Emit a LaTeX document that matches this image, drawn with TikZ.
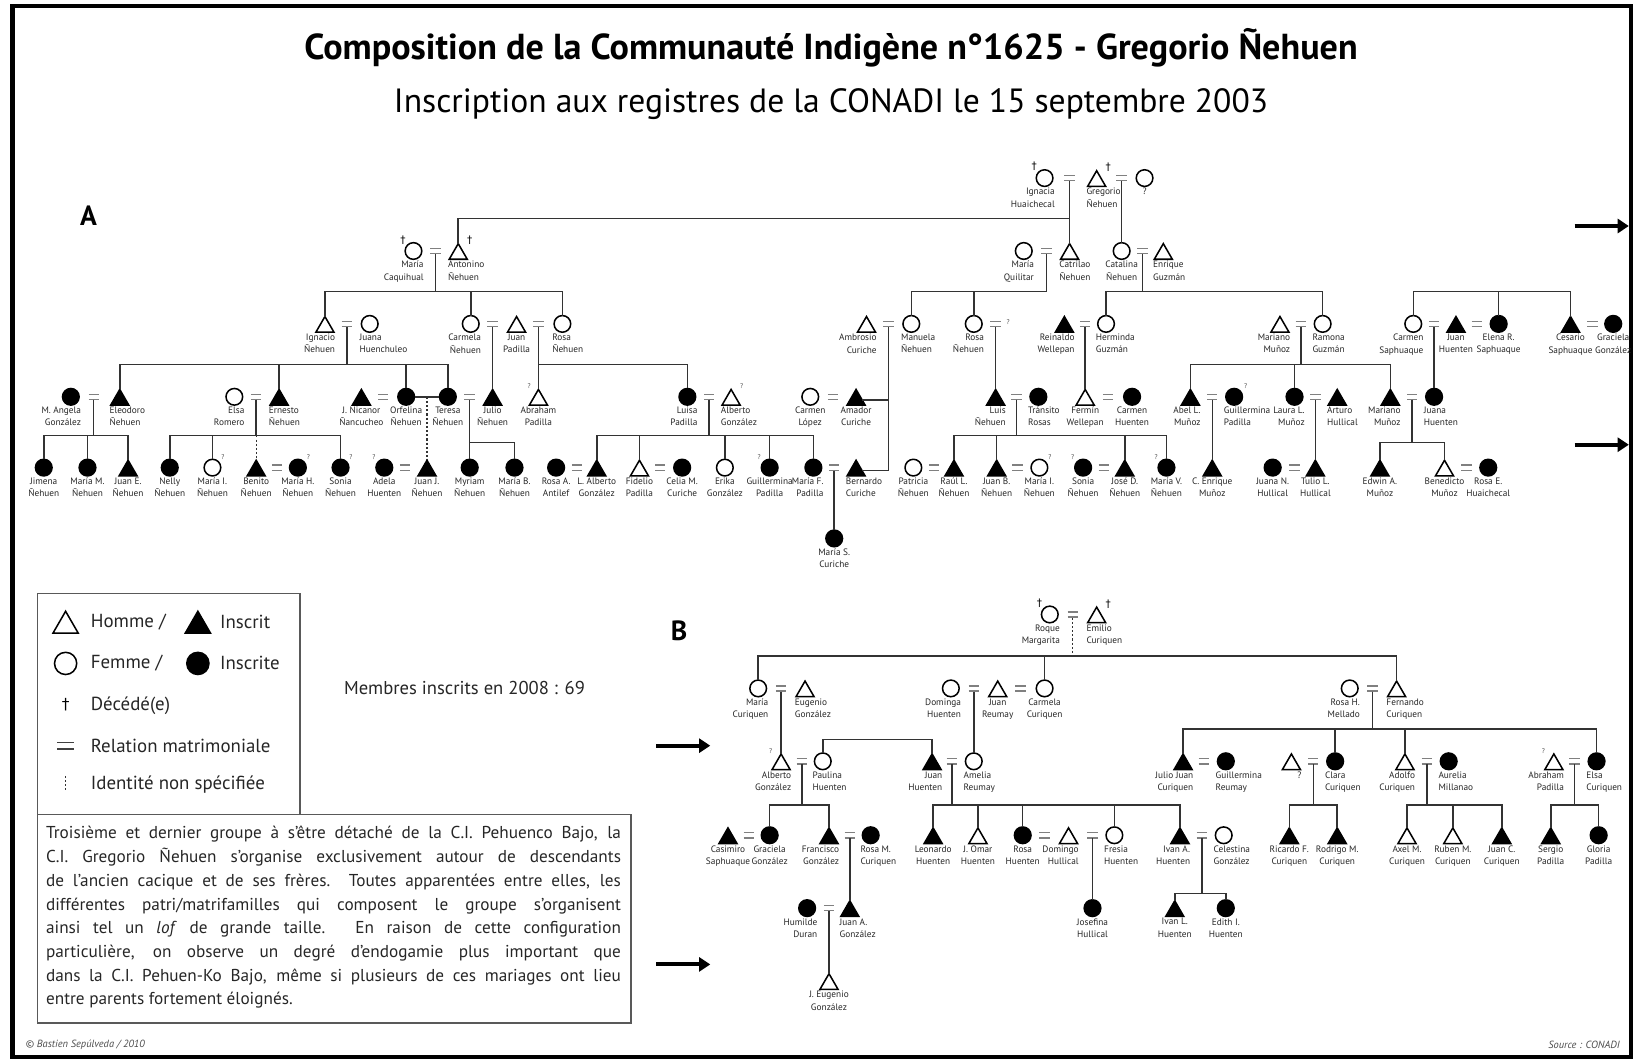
\documentclass[tikz,border=0pt]{standalone}
\usepackage{fontspec}
\setmainfont{PT Sans}
\newfontfamily\djv{DejaVu Sans}
\usetikzlibrary{shapes.geometric,arrows.meta,calc}
\tikzset{
  sym/.style={draw=black, line width=1.1pt, inner sep=0pt, outer sep=0pt},
  hom/.style={sym, regular polygon, regular polygon sides=3, minimum size=15pt, fill=white, yshift=-2.2pt},
  homI/.style={hom, fill=black},
  fem/.style={sym, circle, minimum size=12pt, fill=white},
  femI/.style={fem, fill=black},
  lab/.style={font=\fontsize{6.7}{8.8}\selectfont, inner sep=0pt, text=black!85, yshift=-7.2pt},
  labC/.style={anchor=north, align=center},
  labL/.style={anchor=north east, align=right, xshift=7.5pt},
  labR/.style={anchor=north west, align=left, xshift=-7.5pt},
  link/.style={draw=black!80, line width=1.1pt},
  dotl/.style={draw=black!80, line width=1pt, dash pattern=on 1.5pt off 1.5pt},
  eqs/.style={draw=black!50, line width=1pt},
  qm/.style={font=\fontsize{5}{5}\selectfont, inner sep=0pt, text=black!70},
  dag/.style={font=\djv\fontsize{7.5}{7.5}\selectfont, inner sep=0pt},
  bigarrow/.style={line width=3pt, -{Triangle[length=8pt,width=10pt]}},
  box/.style={draw=black!65, line width=1.2pt},
  legtxt/.style={font=\fontsize{13.6}{15}\selectfont, anchor=west, inner sep=0pt, text=black!85},
}
\newcommand{\Pers}[6]{\node[#1] (#2) at (#3,#4) {}; \node[lab,#5] (#2-l) at (#3,#4) {#6};}
\newcommand{\Marr}[3]{\draw[eqs] ({#2-5},{#3-2.5}) -- ({#2+5},{#3-2.5}) ({#2-5},{#3+2.5}) -- ({#2+5},{#3+2.5}); \coordinate (#1) at (#2,{#3+3});}
\newcommand{\Desc}[3]{\foreach \kid in {#3}{\draw[link] (#1) |- (\kid |- 0,#2) -- (\kid.north);}}
\newcommand{\Direct}[2]{\draw[link] (#1) -- (#1 |- #2.north);}
\newcommand{\Qm}[3]{\node[qm] (#1) at (#2,#3) {?};}
\begin{document}
\begin{tikzpicture}[x=0.75pt, y=-0.75pt]
\useasboundingbox (0,0) rectangle (1568,1018);
\draw[line width=3pt] (12,6) rectangle (1566,1015);

\node[font=\bfseries\fontsize{26}{30}\selectfont] (title) at (798,46) {Composition de la Communauté Indigène n°1625 - Gregorio Ñehuen};
\node[font=\fontsize{24.2}{28}\selectfont] (sub) at (798,100) {Inscription aux registres de la CONADI le 15 septembre 2003};
\node[font=\bfseries\fontsize{20}{20}\selectfont] (lA) at (85,207) {A};
\node[font=\bfseries\fontsize{20}{20}\selectfont] (lB) at (652,606) {B};

% ===== A : generation 1
\Pers{fem}{ign}{1003}{171}{labL}{Ignacia\\Huaichecal}
\Marr{m1}{1027}{171}
\Pers{hom}{gre}{1053}{171}{labR}{Gregorio\\Ñehuen}
\Marr{m2}{1077}{171}
\Pers{fem}{gref}{1099}{171}{labC}{?}
\node[dag] (d1) at (993,160) {†};
\node[dag] (d2) at (1064,161) {†};
% generation 2
\Pers{fem}{mca}{397}{241}{labL}{María\\Caquihual}
\Marr{m3}{418}{241}
\Pers{hom}{ant}{440}{241}{labR}{Antonino\\Ñehuen}
\node[dag] (d3) at (387,231) {†};
\node[dag] (d4) at (451,231) {†};
\Pers{fem}{mqu}{983}{241}{labL}{María\\Quilitar}
\Marr{m4}{1005}{241}
\Pers{hom}{cat}{1027}{241}{labR}{Catrilao\\Ñehuen}
\Pers{fem}{cata}{1077}{241}{labC}{Catalina\\Ñehuen}
\Marr{m5}{1097}{241}
\Pers{hom}{enr}{1117}{241}{labR}{Enrique\\Guzmán}
\Direct{m1}{cat}
\draw[link] (m1 |- 0,210) -| (ant.north);
\Direct{m2}{cata}
% row 3
\Pers{hom}{ignc}{312}{311}{labL}{Ignacio\\Ñehuen}
\Marr{m6}{333}{311}
\Pers{fem}{jua}{355}{311}{labR}{Juana\\Huenchuleo}
\Pers{fem}{carm}{452}{311}{labL}{Carmela\\Ñehuen}
\Marr{m7}{473}{311}
\Pers{hom}{jpad}{496}{311}{labC}{Juan\\Padilla}
\Marr{m8}{517}{311}
\Pers{fem}{rosn}{540}{311}{labR}{Rosa\\Ñehuen}
\Desc{m3}{280}{ignc,carm,rosn}
\Pers{hom}{amb}{832}{311}{labL}{Ambrosio\\Curiche}
\Marr{m9}{853}{311}
\Pers{fem}{man}{875}{311}{labR}{Manuela\\Ñehuen}
\Pers{fem}{ros2}{935}{311}{labL}{Rosa\\Ñehuen}
\Marr{m10}{956}{311}
\Qm{q0}{968}{309}
\Desc{m4}{280}{man,ros2}
\Pers{homI}{rei}{1022}{311}{labL}{Reinaldo\\Wellepan}
\Marr{m11}{1042}{311}
\Pers{fem}{her}{1062}{311}{labR}{Herminda\\Guzmán}
\Pers{hom}{mar}{1229}{311}{labL}{Mariano\\Muñoz}
\Marr{m12}{1249}{311}
\Pers{fem}{ram}{1270}{311}{labR}{Ramona\\Guzmán}
\Desc{m5}{280}{her,ram}
\Pers{fem}{csa}{1357}{311}{labL}{Carmen\\Saphuaque}
\Marr{m13}{1377}{311}
\Pers{homI}{jhu}{1398}{311}{labC}{Juan\\Huenten}
\Marr{m14}{1418}{311}
\Pers{femI}{ele}{1439}{311}{labC}{Elena R.\\Saphuaque}
\Pers{homI}{ces}{1508}{311}{labC}{Cesario\\Saphuaque}
\Marr{m15}{1529}{311}
\Pers{femI}{gra}{1549}{311}{labC}{Graciela\\González}
\coordinate (sib1) at (1439,280);
\Desc{sib1}{280}{csa,ele,ces}
% row 4
\Pers{femI}{mag}{68}{381}{labL}{M. Angela\\González}
\Marr{m16}{90}{381}
\Pers{homI}{eln}{115}{381}{labR}{Eleodoro\\Ñehuen}
\Pers{fem}{els}{225}{381}{labL}{Elsa\\Romero}
\Marr{m17}{246}{381}
\Pers{homI}{ern}{268}{381}{labR}{Ernesto\\Ñehuen}
\Pers{homI}{nic}{347}{381}{labC}{J. Nicanor\\Ñancucheo}
\Marr{m18}{368}{381}
\Pers{femI}{orf}{390}{381}{labC}{Orfelina\\Ñehuen}
\Pers{femI}{ter}{430}{381}{labC}{Teresa\\Ñehuen}
\Marr{m19}{451}{381}
\Pers{homI}{jul}{473}{381}{labC}{Julio\\Ñehuen}
\Pers{hom}{abr}{517}{381}{labC}{Abraham\\Padilla}
\Qm{q1}{508}{371}
\Desc{m6}{350}{eln,ern,orf,ter}
\Direct{m7}{jul}
\draw[link] (orf.east) -- (ter.west);
\coordinate (ot) at ($(orf.east)!0.5!(ter.west)$);
\Pers{femI}{lui}{660}{381}{labL}{Luisa\\Padilla}
\Desc{m8}{350}{abr,lui}
\Marr{m20}{681}{381}
\Pers{hom}{alb}{702}{381}{labR}{Alberto\\González}
\Qm{q2}{712}{371}
\Pers{fem}{clo}{778}{381}{labC}{Carmen\\López}
\Marr{m21}{800}{381}
\Pers{homI}{ama}{822}{381}{labC}{Amador\\Curiche}
\Pers{homI}{lui2}{956}{381}{labL}{Luis\\Ñehuen}
\Marr{m22}{976}{381}
\Pers{femI}{tra}{997}{381}{labR}{Tránsito\\Rosas}
\Direct{m10}{lui2}
\Pers{hom}{fer}{1042}{381}{labC}{Fermín\\Wellepan}
\Marr{m23}{1064}{381}
\Pers{femI}{cah}{1087}{381}{labC}{Carmen\\Huenten}
\Direct{m11}{fer}
\Pers{homI}{abe}{1143}{381}{labL}{Abel L.\\Muñoz}
\Marr{m24}{1164}{381}
\Pers{femI}{gui}{1185}{381}{labR}{Guillermina\\Padilla}
\Qm{q3}{1196}{371}
\Pers{femI}{lau}{1243}{381}{labL}{Laura L.\\Muñoz}
\Marr{m25}{1263}{381}
\Pers{homI}{art}{1284}{381}{labR}{Arturo\\Hullical}
\Pers{homI}{mar2}{1335}{381}{labL}{Mariano\\Muñoz}
\Marr{m26}{1356}{381}
\Pers{femI}{jhu2}{1377}{381}{labR}{Juana\\Huenten}
\Desc{m12}{350}{abe,lau,mar2}
\Direct{m13}{jhu2}
% row 5
\Pers{femI}{jim}{42}{449}{labC}{Jimena\\Ñehuen}
\Pers{femI}{mmn}{84}{449}{labC}{María M.\\Ñehuen}
\Pers{homI}{jen}{123}{449}{labC}{Juan E.\\Ñehuen}
\Desc{m16}{418}{jim,mmn,jen}
\Pers{femI}{nel}{163}{449}{labC}{Nelly\\Ñehuen}
\Pers{fem}{min}{204}{449}{labC}{María I.\\Ñehuen}
\Qm{q4}{214}{439}
\Pers{homI}{ben}{246}{449}{labC}{Benito\\Ñehuen}
\Marr{m27}{266}{449}
\Pers{femI}{mhn}{286}{449}{labC}{María H.\\Ñehuen}
\Qm{q5}{296}{439}
\Pers{femI}{son}{327}{449}{labC}{Sonia\\Ñehuen}
\Qm{q6}{337}{439}
\Desc{m17}{418}{nel,min,son}
\draw[dotl] (m17 |- 0,418) -- (ben.north);
\Pers{femI}{ade}{369}{449}{labC}{Adela\\Huenten}
\Qm{q7}{359}{439}
\Marr{m28}{389}{449}
\Pers{homI}{jjn}{410}{449}{labC}{Juan J.\\Ñehuen}
\draw[dotl] (ot) -- (ot |- jjn.north);
\Pers{femI}{myr}{451}{449}{labC}{Myriam\\Ñehuen}
\Pers{femI}{mbn}{494}{449}{labC}{María B.\\Ñehuen}
\Direct{m19}{myr}
\draw[link] (m19 |- 0,425) -| (mbn.north);
\Pers{femI}{raa}{534}{449}{labC}{Rosa A.\\Antilef}
\Marr{m29}{554}{449}
\Pers{homI}{lal}{573}{449}{labC}{L. Alberto\\González}
\Pers{hom}{fid}{614}{449}{labC}{Fidelio\\Padilla}
\Marr{m30}{634}{449}
\Pers{femI}{cel}{655}{449}{labC}{Celia M.\\Curiche}
\Pers{fem}{eri}{696}{449}{labC}{Erika\\González}
\Pers{femI}{gui2}{739}{449}{labC}{Guillermina\\Padilla}
\Qm{q8}{729}{439}
\Pers{femI}{mfp}{781}{449}{labL}{María F.\\Padilla}
\Marr{m31}{801}{449}
\Pers{homI}{ber}{822}{449}{labR}{Bernardo\\Curiche}
\Desc{m20}{418}{lal,fid,eri,gui2,mfp}
\draw[link] (m9) |- (ber.east);
\draw[link] (m9 |- ama.east) -- (ama.east);
\Pers{fem}{pat}{877}{449}{labC}{Patricia\\Ñehuen}
\Marr{m32}{897}{449}
\Pers{homI}{rau}{916}{449}{labC}{Raúl L.\\Ñehuen}
\Pers{homI}{jbn}{957}{449}{labC}{Juan B.\\Ñehuen}
\Marr{m33}{977}{449}
\Pers{fem}{min2}{998}{449}{labC}{María I.\\Ñehuen}
\Qm{q9}{1008}{439}
\Pers{femI}{son2}{1040}{449}{labC}{Sonia\\Ñehuen}
\Qm{q10}{1030}{439}
\Marr{m34}{1060}{449}
\Pers{homI}{jdn}{1080}{449}{labC}{José D.\\Ñehuen}
\Pers{femI}{mvn}{1120}{449}{labC}{María V.\\Ñehuen}
\Qm{q11}{1110}{439}
\Desc{m22}{418}{rau,jbn,jdn,mvn}
\Pers{homI}{cen}{1164}{449}{labC}{C. Enrique\\Muñoz}
\Direct{m24}{cen}
\Pers{femI}{jnh}{1222}{449}{labC}{Juana N.\\Hullical}
\Marr{m35}{1243}{449}
\Pers{homI}{tul}{1263}{449}{labC}{Tulio L.\\Hullical}
\Direct{m25}{tul}
\Pers{homI}{edw}{1325}{449}{labC}{Edwin A.\\Muñoz}
\Pers{hom}{bed}{1387}{449}{labC}{Benedicto\\Muñoz}
\Marr{m36}{1408}{449}
\Pers{femI}{reh}{1429}{449}{labC}{Rosa E.\\Huaichecal}
\Desc{m26}{425}{edw,bed}
% row 6
\Pers{femI}{msc}{801}{517}{labC}{María S.\\Curiche}
\Direct{m31}{msc}

% arrows
\coordinate (a1s) at (1512,217); \coordinate (a1e) at (1564,217);
\coordinate (a2s) at (1512,427); \coordinate (a2e) at (1564,427);
\coordinate (a3s) at (630,716);  \coordinate (a3e) at (682,716);
\coordinate (a4s) at (630,926);  \coordinate (a4e) at (682,926);
\draw[bigarrow] (a1s) -- (a1e);
\draw[bigarrow] (a2s) -- (a2e);
\draw[bigarrow] (a3s) -- (a3e);
\draw[bigarrow] (a4s) -- (a4e);

% ===== B
\Pers{fem}{roq}{1008}{590}{labL}{Roque\\Margarita}
\Marr{m40}{1030}{590}
\Pers{hom}{emi}{1053}{590}{labR}{Emilio\\Curiquen}
\node[dag] (d5) at (998,579) {†};
\node[dag] (d6) at (1064,580) {†};
\Pers{fem}{mcu}{728}{661}{labL}{María\\Curiquen}
\Marr{m41}{750}{661}
\Pers{hom}{eug}{773}{661}{labR}{Eugenio\\González}
\Pers{fem}{dhu}{913}{661}{labL}{Dominga\\Huenten}
\Marr{m42}{935}{661}
\Pers{hom}{jre}{958}{661}{labC}{Juan\\Reumay}
\Marr{m43}{980}{661}
\Pers{fem}{ccu}{1003}{661}{labC}{Carmela\\Curiquen}
\Pers{fem}{rhm}{1296}{661}{labL}{Rosa H.\\Mellado}
\Marr{m44}{1318}{661}
\Pers{hom}{fcu}{1341}{661}{labR}{Fernando\\Curiquen}
\draw[dotl] (m40) -- (m40 |- 0,630);
\coordinate (b1) at (m40 |- 0,630);
\Desc{b1}{630}{mcu,ccu,fcu}
% B row 3
\Pers{hom}{agz}{750}{731}{labL}{Alberto\\González}
\Qm{q12}{740}{721}
\Marr{m45}{770}{731}
\Pers{fem}{phu}{790}{731}{labR}{Paulina\\Huenten}
\Direct{m41}{agz}
\Pers{homI}{jhb}{895}{731}{labL}{Juan\\Huenten}
\Marr{m46}{914}{731}
\Pers{fem}{are}{935}{731}{labR}{Amelia\\Reumay}
\Direct{m42}{are}
\draw[link] (phu.north) |- (jhb.north |- 0,710) -- (jhb.north);
\Pers{homI}{jjc}{1136}{731}{labL}{Julio Juan\\Curiquen}
\Marr{m47}{1156}{731}
\Pers{femI}{gre2}{1177}{731}{labR}{Guillermina\\Reumay}
\Pers{hom}{unk}{1240}{731}{labL}{?}
\Marr{m48}{1261}{731}
\Pers{femI}{clc}{1282}{731}{labR}{Clara\\Curiquen}
\Pers{hom}{adc}{1349}{731}{labL}{Adolfo\\Curiquen}
\Marr{m49}{1370}{731}
\Pers{femI}{aum}{1391}{731}{labR}{Aurelia\\Millanao}
\Pers{hom}{apb}{1492}{731}{labL}{Abraham\\Padilla}
\Qm{q13}{1482}{721}
\Marr{m50}{1512}{731}
\Pers{femI}{ecu}{1533}{731}{labR}{Elsa\\Curiquen}
\Desc{m44}{700}{jjc,clc,adc,ecu}
% B row 4
\Pers{homI}{csp}{699}{802}{labC}{Casimiro\\Saphuaque}
\Marr{m51}{719}{802}
\Pers{femI}{ggo}{739}{802}{labC}{Graciela\\González}
\Pers{homI}{fgo}{796}{802}{labL}{Francisco\\González}
\Marr{m52}{816}{802}
\Pers{femI}{rmc}{836}{802}{labR}{Rosa M.\\Curiquen}
\Desc{m45}{773}{ggo,fgo}
\Pers{homI}{leo}{896}{802}{labC}{Leonardo\\Huenten}
\Pers{hom}{omr}{939}{802}{labC}{J. Omar\\Huenten}
\Pers{femI}{rhu}{982}{802}{labC}{Rosa\\Huenten}
\Marr{m53}{1003}{802}
\Pers{hom}{dhl}{1026}{802}{labL}{Domingo\\Hullical}
\Marr{m54}{1049}{802}
\Pers{fem}{fhu}{1070}{802}{labR}{Fresia\\Huenten}
\Pers{homI}{iah}{1133}{802}{labL}{Ivan A.\\Huenten}
\Marr{m55}{1154}{802}
\Pers{fem}{cgo}{1175}{802}{labR}{Celestina\\González}
\Desc{m46}{773}{leo,omr,rhu,fhu,iah}
\Pers{homI}{rfc}{1238}{802}{labC}{Ricardo F.\\Curiquen}
\Pers{homI}{rmc2}{1284}{802}{labC}{Rodrigo M.\\Curiquen}
\Desc{m48}{773}{rfc,rmc2}
\Pers{hom}{axc}{1351}{802}{labC}{Axel M.\\Curiquen}
\Pers{hom}{ruc}{1395}{802}{labC}{Ruben M.\\Curiquen}
\Pers{homI}{jcc}{1442}{802}{labC}{Juan C.\\Curiquen}
\Desc{m49}{773}{axc,ruc,jcc}
\Pers{homI}{spa}{1489}{802}{labC}{Sergio\\Padilla}
\Pers{femI}{gpa}{1535}{802}{labC}{Gloria\\Padilla}
\Desc{m50}{773}{spa,gpa}
% B row 5
\Pers{femI}{hdu}{775}{872}{labL}{Humilde\\Duran}
\Marr{m56}{796}{872}
\Pers{homI}{jag}{816}{872}{labR}{Juan A.\\González}
\Direct{m52}{jag}
\Pers{femI}{jhl}{1049}{872}{labC}{Josefina\\Hullical}
\Direct{m54}{jhl}
\Pers{homI}{ilh}{1128}{872}{labC}{Ivan L.\\Huenten}
\Pers{femI}{eih}{1177}{872}{labC}{Edith I.\\Huenten}
\Desc{m55}{858}{ilh,eih}
% B row 6
\Pers{hom}{jeg}{796}{942}{labC}{J. Eugenio\\González}
\Direct{m56}{jeg}

% ===== legend
\draw[box] (36,570) rectangle (288,782);
\draw[box] (36,782) rectangle (606,982);
\node[hom, minimum size=21pt] (lgH) at (63,598) {};
\node[legtxt] (lgHt) at (87,597) {Homme /};
\node[homI, minimum size=21pt] (lgI) at (190,598) {};
\node[legtxt] (lgIt) at (211,597) {Inscrit};
\node[fem, minimum size=16pt] (lgF) at (63,637) {};
\node[legtxt] (lgFt) at (87,637) {Femme /};
\node[femI, minimum size=16pt] (lgFI) at (190,637) {};
\node[legtxt] (lgFIt) at (211,637) {Inscrite};
\node[inner sep=0pt, font=\djv\fontsize{11}{11}\selectfont] (lgD) at (63,677) {†};
\node[legtxt] (lgDt) at (87,678) {Décédé(e)};
\coordinate (lgM1) at (55,713); \coordinate (lgM2) at (71,713);
\coordinate (lgM3) at (55,719); \coordinate (lgM4) at (71,719);
\draw[line width=1.2pt, black!75] (lgM1) -- (lgM2) (lgM3) -- (lgM4);
\node[legtxt] (lgMt) at (87,716) {Relation matrimoniale};
\coordinate (lgU1) at (63,745); \coordinate (lgU2) at (63,761);
\draw[dotl] (lgU1) -- (lgU2);
\node[legtxt] (lgUt) at (87,753) {Identité non spécifiée};
\node[font=\fontsize{13.4}{15}\selectfont, text=black!85] (memb) at (446,661) {Membres inscrits en 2008 : 69};

\node[anchor=north west, inner sep=0pt, text width=414pt, align=justify, text=black!85,
      font=\fontsize{12.4}{17.1}\selectfont] (para) at (44,793)
 {Troisième et dernier groupe à s'être détaché de la C.I. Pehuenco Bajo, la\linebreak
  C.I. Gregorio Ñehuen s'organise exclusivement autour de descendants\linebreak
  de l'ancien cacique et de ses frères. Toutes apparentées entre elles, les\linebreak
  différentes patri/matrifamilles qui composent le groupe s'organisent\linebreak
  ainsi tel un \textit{lof} de grande taille. En raison de cette configuration\linebreak
  particulière, on observe un degré d'endogamie plus important que\linebreak
  dans la C.I. Pehuen-Ko Bajo, même si plusieurs de ces mariages ont lieu\linebreak
  entre parents fortement éloignés.};

\node[font=\itshape\fontsize{7.5}{8}\selectfont, anchor=west, text=black!70] (cr) at (20,1003) {© Bastien Sepúlveda / 2010};
\node[font=\itshape\fontsize{7.5}{8}\selectfont, anchor=east, text=black!70] (src) at (1560,1003) {Source : CONADI};
\end{tikzpicture}
\end{document}
